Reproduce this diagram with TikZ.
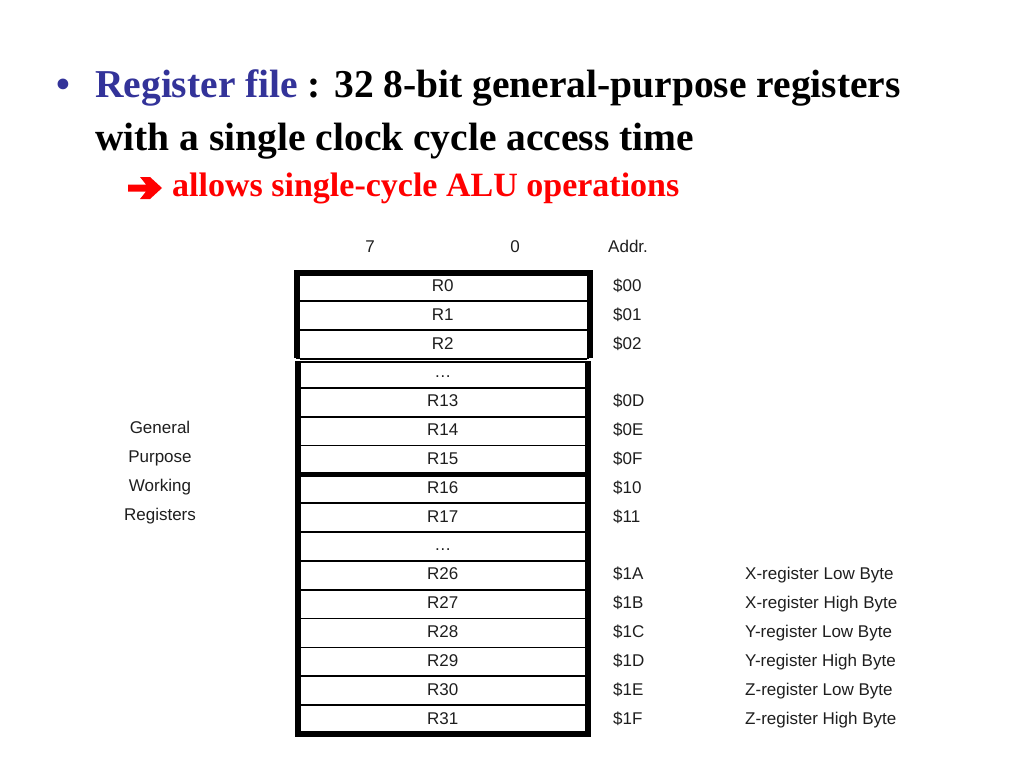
\documentclass[tikz,border=0pt]{standalone}
\usepackage{fontspec}
\setmainfont{Liberation Serif}
\setsansfont{Liberation Sans}
\definecolor{titleblue}{RGB}{51,51,153}
\definecolor{titlered}{RGB}{255,0,0}
\definecolor{ink}{RGB}{30,30,30}
\begin{document}
\begin{tikzpicture}[x=1pt,y=-1pt,
  cell/.style={draw=black, line width=1.8pt, minimum width=291.5pt, minimum height=28.84pt,
    inner sep=0pt, text height=12pt, text depth=3pt, text=ink,
    font=\sffamily\fontsize{17}{17}\selectfont},
  lab/.style={inner sep=0pt, text height=12pt, text depth=3pt, text=ink,
    font=\sffamily\fontsize{17}{17}\selectfont},
  frame/.style={draw=black, line width=6pt},
  title/.style={inner sep=0pt, anchor=base west, font=\bfseries\fontsize{39.5}{40}\selectfont},
  sub/.style={inner sep=0pt, anchor=base west, text=titlered, font=\bfseries\fontsize{34}{34}\selectfont}]
\useasboundingbox (0,0) rectangle (1024,768);
% title
\node[title, text=titleblue] (bul) at (56,97) {•};
\node[title] (l1) at (95,97) {\textcolor{titleblue}{Register file} : 32 8-bit general-purpose registers};
\node[title] (l2) at (95,150) {with a single clock cycle access time};
\fill[titlered] (128,184.5) -- (146,184.5) -- (140,177) -- (150,177) -- (162,188) -- (150,199) -- (140,199) -- (146,191.5) -- (128,191.5) -- cycle;
\node[sub] (l3) at (172,196) {allows single-cycle ALU operations};
% header
\node[lab] (b7) at (370,248) {7};
\node[lab] (b0) at (515,248) {0};
\node[lab, anchor=west] (addr) at (608,248) {Addr.};
% cells
\foreach [count=\i from 0] \r/\a in {R0/\$00,R1/\$01,R2/\$02,{\ldots}/{},R13/\$0D,R14/\$0E,R15/\$0F,R16/\$10,R17/\$11,{\ldots}/{},R26/\$1A,R27/\$1B,R28/\$1C,R29/\$1D,R30/\$1E,R31/\$1F}{
  \node[cell] (r\i) at (442.75,{286.92+28.84*\i}) {\r};
  \node[lab, anchor=west] (a\i) at (613,{286.92+28.84*\i}) {\a};
}
% frame
\draw[frame] (297,358.4) -- (297,272.5) -- (590,272.5) -- (590,358.4);
\draw[frame] (297.5,361.3) -- (297.5,734) -- (588,734) -- (588,361.3);
\draw[draw=white, line width=1.2pt] (294,359.9) -- (593,359.9);
\draw[black, line width=1.8pt] (300,358.6) -- (587,358.6);
\draw[black, line width=1.8pt] (300,361.6) -- (587,361.6);
\draw[black, line width=5pt] (297,474.4) -- (588,474.4);
% left labels
\node[lab] (g1) at (160,429.0) {General};
\node[lab] (g2) at (160,457.9) {Purpose};
\node[lab] (g3) at (160,486.7) {Working};
\node[lab] (g4) at (160,515.6) {Registers};
% right labels
\foreach \i/\t in {10/X-register Low Byte,11/X-register High Byte,12/Y-register Low Byte,13/Y-register High Byte,14/Z-register Low Byte,15/Z-register High Byte}{
  \node[lab, anchor=west] (x\i) at (745,{286.92+28.84*\i}) {\t};
}
\end{tikzpicture}
\end{document}
